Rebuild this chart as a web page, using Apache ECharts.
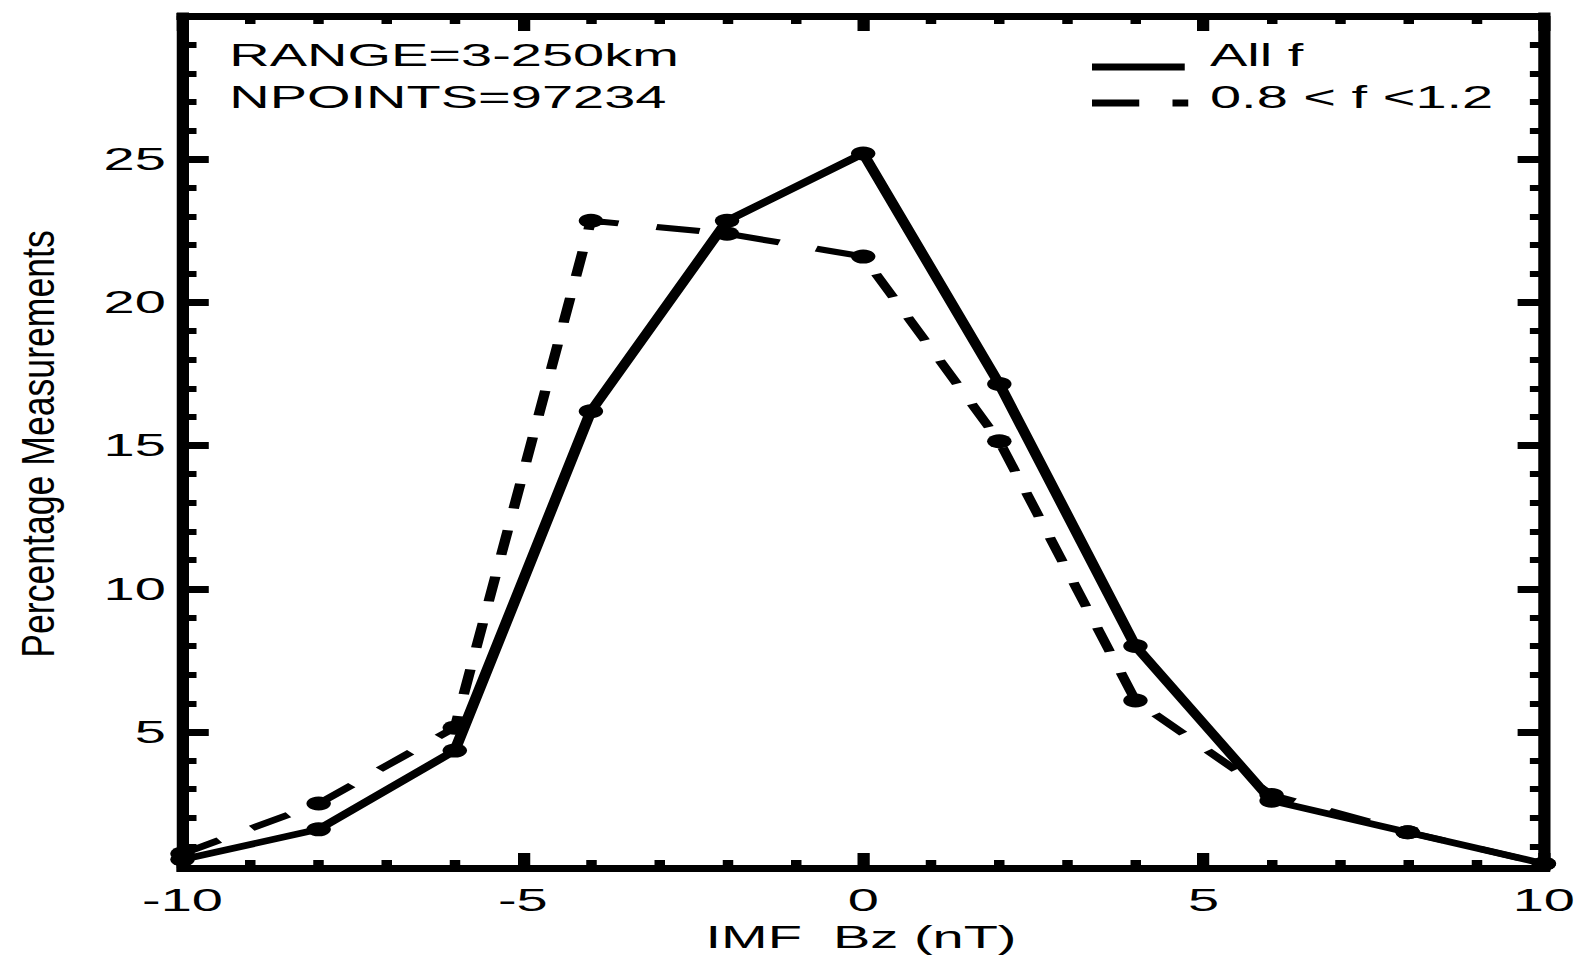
<!DOCTYPE html>
<html>
<head>
<meta charset="utf-8">
<script src="https://cdn.jsdelivr.net/npm/echarts@6.0.0/dist/echarts.min.js"></script>
<style>
  html, body { margin: 0; padding: 0; background: #fff; overflow: hidden; width: 1581px; height: 963px; }
  /* the original plot is stretched horizontally, so draw narrow and stretch */
  #chart { width: 903px; height: 963px; transform: scaleX(1.75); transform-origin: 0 0; }
</style>
</head>
<body>
<div id="chart"></div>
<script>
// IMF Bz bins (nT)
const bzValues = [-10, -8, -6, -4, -2, 0, 2, 4, 6, 8, 10];
// percentage of measurements, all f
const allF = [0.55, 1.6, 4.35, 16.2, 22.85, 25.2, 17.15, 8.0, 2.6, 1.5, 0.4];
// percentage of measurements, 0.8 < f < 1.2
const midF = [0.75, 2.5, 5.15, 22.85, 22.4, 21.6, 15.15, 6.1, 2.8, 1.5, 0.4];

const yMajorTicks = [5, 10, 15, 20, 25];
const yMinorTicks = [1, 2, 3, 4, 6, 7, 8, 9, 11, 12, 13, 14, 16, 17, 18, 19, 21, 22, 23, 24, 26, 27, 28, 29];
const seriesNames = ['All f', '0.8 < f <1.2'];
const notes = ['RANGE=3-250km', 'NPOINTS=97234'];

const FONT = 'Liberation Sans, Arial, Helvetica, sans-serif';
const INK = '#000';
const DASH = [25, 22];

let chart = echarts.init(document.getElementById('chart'), null, { renderer: 'svg', width: 903, height: 963 });

function pairs(ys) {
  return bzValues.map((x, i) => [x, ys[i]]);
}

function xAxisDef(pos, labels) {
  return {
    type: 'value', position: pos, min: -10, max: 10, interval: 5,
    axisLine: { show: true, onZero: false, lineStyle: { color: INK, width: 7, cap: 'square' } },
    axisTick: { show: true, inside: true, length: 15, lineStyle: { color: INK, width: 7 } },
    minorTick: { show: true, splitNumber: 5, length: 8, lineStyle: { color: INK, width: 6 } },
    axisLabel: { show: labels, color: INK, fontSize: 32, fontFamily: FONT, margin: 16 },
    splitLine: { show: false }
  };
}

function yAxisDef(pos, ticks, major, line) {
  return {
    type: 'value', position: pos, min: 0.25, max: 30,
    axisLine: { show: line, onZero: false, lineStyle: { color: INK, width: 7, cap: 'square' } },
    axisTick: { show: true, inside: true, customValues: ticks, length: major ? 15 : 8,
      lineStyle: { color: INK, width: major ? 7 : 6 } },
    axisLabel: { show: major && pos === 'left', customValues: ticks, color: INK,
      fontSize: 32, fontFamily: FONT, margin: 9.5 },
    splitLine: { show: false }
  };
}

let option = {
  animation: false,
  backgroundColor: '#fff',
  grid: { left: 104.3, right: 20.5, top: 16, bottom: 95 },
  xAxis: [xAxisDef('bottom', true), xAxisDef('top', false)],
  yAxis: [
    yAxisDef('left', yMajorTicks, true, true),
    yAxisDef('left', yMinorTicks, false, false),
    yAxisDef('right', yMajorTicks, true, true),
    yAxisDef('right', yMinorTicks, false, false)
  ],
  graphic: [
    // y axis title, condensed like the original
    { type: 'text', x: 21.7, y: 444, rotation: Math.PI / 2, scaleX: 1.37,
      style: { text: 'Percentage Measurements', fontSize: 26, fontFamily: FONT, fill: INK,
        align: 'center', verticalAlign: 'middle' } },
    // x axis title
    { type: 'text', x: 492, y: 937,
      style: { text: 'IMF  Bz (nT)', fontSize: 32, fontFamily: FONT, fill: INK,
        align: 'center', verticalAlign: 'middle' } },
    // notes top left
    { type: 'text', x: 131, y: 55.5,
      style: { text: notes[0], fontSize: 32, fontFamily: FONT, fill: INK, verticalAlign: 'middle' } },
    { type: 'text', x: 131, y: 97,
      style: { text: notes[1], fontSize: 32, fontFamily: FONT, fill: INK, verticalAlign: 'middle' } },
    // legend
    { type: 'line', shape: { x1: 624, y1: 67, x2: 677, y2: 67 },
      style: { stroke: INK, lineWidth: 7 } },
    { type: 'line', shape: { x1: 624, y1: 103, x2: 679, y2: 103 },
      style: { stroke: INK, lineWidth: 7, lineDash: [27, 19, 9, 100] } },
    { type: 'text', x: 691.4, y: 55.5,
      style: { text: seriesNames[0], fontSize: 32, fontFamily: FONT, fill: INK, verticalAlign: 'middle' } },
    { type: 'text', x: 691.4, y: 97,
      style: { text: seriesNames[1], fontSize: 32, fontFamily: FONT, fill: INK, verticalAlign: 'middle' } }
  ],
  series: [
    {
      name: seriesNames[1], type: 'line', data: pairs(midF),
      symbol: 'circle', symbolSize: 14, showSymbol: true,
      itemStyle: { color: INK },
      lineStyle: { color: INK, width: 6, type: DASH }
    },
    {
      name: seriesNames[0], type: 'line', data: pairs(allF),
      symbol: 'circle', symbolSize: 14, showSymbol: true,
      itemStyle: { color: INK },
      lineStyle: { color: INK, width: 6.5 }
    }
  ]
};

chart.setOption(option);
</script>
</body>
</html>
